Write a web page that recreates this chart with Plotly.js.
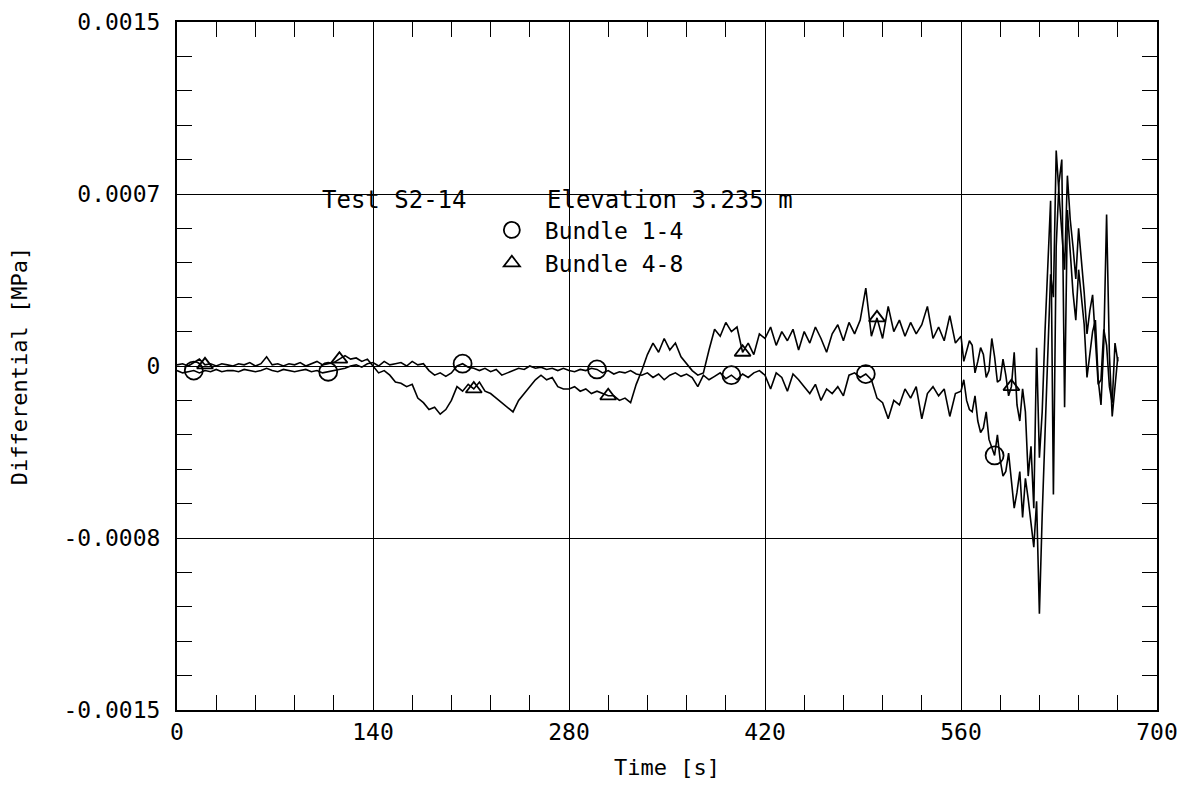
<!DOCTYPE html>
<html>
<head>
<meta charset="utf-8">
<script src="https://cdn.plot.ly/plotly-3.0.1.min.js"></script>
<style>html,body{margin:0;padding:0;background:#fff;}#chart{width:1180px;height:785px;}</style>
</head>
<body>
<div id="chart"></div>
<script>
// Time [s]
const time = [
0,4,8,12,16,20,24,28,32,36,
40,44,48,52,56,60,64,68,72,76,
80,84,88,92,96,100,104,108,112,116,
120,124,128,132,136,140,144,148,152,156,
160,164,168,172,176,180,184,188,192,196,
200,204,208,212,216,220,224,228,232,236,
240,244,248,252,256,260,264,268,272,276,
280,284,288,292,296,300,304,308,312,316,
320,324,328,332,336,340,344,348,352,356,
360,364,368,372,376,380,384,388,392,396,
400,404,408,412,416,420,424,428,432,436,
440,444,448,452,456,460,464,468,472,476,
480,484,488,492,496,500,504,508,512,516,
520,524,528,532,536,540,544,548,552,556,
560,562,564,566,568,570,572,574,576,578,
580,582,584,586,588,590,592,594,596,598,
600,602,604,606,608,610,612,614,616,618,
620,622,624,626,628,630,632,634,636,638,
640,642,644,646,648,650,652,654,656,658,
660,662,664,666,668,670,672
];
// Differential pressure, units of 1e-4 MPa
const bundle14 = [
-0.2,-0.3,-0.25,-0.2,-0.3,-0.2,-0.25,-0.15,-0.25,-0.2,
-0.2,-0.25,-0.15,-0.2,-0.25,-0.2,-0.1,-0.2,-0.25,-0.15,
-0.2,-0.25,-0.2,-0.15,-0.25,-0.2,-0.3,-0.25,-0.2,-0.15,
-0.1,0.0,0.05,-0.05,0.1,0.15,0.0,0.2,0.05,0.1,
0.15,0.0,0.2,0.05,0.1,-0.2,-0.4,-0.3,-0.45,-0.3,
0.0,0.1,-0.05,-0.1,-0.2,-0.1,-0.25,-0.15,-0.4,-0.3,
-0.2,-0.1,-0.15,0.0,-0.1,-0.05,-0.15,-0.1,-0.2,-0.1,
-0.2,-0.25,-0.15,-0.2,-0.1,-0.15,-0.3,-0.2,-0.35,-0.25,
-0.3,-0.2,-0.35,-0.4,-0.3,-0.5,-0.35,-0.6,-0.4,-0.3,
-0.45,-0.35,-0.5,-0.9,-0.4,-0.6,-0.45,-0.3,-0.55,-0.4,
-0.6,-0.35,-0.5,-0.3,-0.2,-0.4,-1.0,-0.3,-0.5,-1.1,
-0.35,-0.6,-0.9,-1.2,-0.8,-1.5,-1.0,-1.2,-0.9,-1.3,
-0.4,-0.3,-0.5,-0.35,-0.6,-1.4,-1.6,-2.3,-1.5,-1.7,
-1.0,-1.4,-0.9,-2.3,-1.2,-0.9,-1.3,-1.0,-2.2,-1.2,
-1.1,-0.6,-1.5,-1.9,-2.0,-1.3,-2.4,-2.9,-2.7,-2.0,
-3.2,-3.6,-3.9,-3.0,-4.1,-4.8,-4.6,-3.8,-5.0,-6.2,
-5.5,-4.6,-6.6,-4.9,-5.8,-7.0,-7.9,-5.9,-10.8,-6.5,
-3.0,1.0,4.0,3.0,9.4,7.5,6.0,4.2,8.3,6.4,
5.2,3.8,6.0,4.6,3.2,1.4,2.4,3.1,1.0,-0.8,
-0.6,1.6,0.9,-0.9,-1.6,1.0,0.2
];
const bundle48 = [
0.05,0.1,0.0,0.15,0.3,0.05,0.1,0.0,0.1,0.05,
0.0,0.1,0.05,0.15,0.0,0.1,0.4,0.05,0.1,0.0,
0.1,0.05,0.15,0.0,0.1,0.2,0.05,0.1,0.15,0.3,
0.45,0.3,0.35,0.2,0.3,0.0,-0.3,-0.2,-0.4,-0.7,
-0.75,-0.9,-0.8,-1.4,-1.6,-1.9,-1.8,-2.1,-1.9,-1.5,
-0.9,-1.1,-0.8,-1.0,-0.7,-1.1,-1.2,-1.4,-1.6,-1.8,
-2.0,-1.5,-1.2,-0.9,-0.6,-0.4,-0.6,-0.5,-0.9,-1.0,
-1.0,-0.9,-1.1,-1.0,-1.2,-1.1,-1.2,-1.3,-1.3,-1.5,
-1.4,-1.6,-0.8,-0.2,0.5,1.0,0.6,1.2,0.7,1.0,
0.4,0.1,-0.2,-0.4,-0.3,0.7,1.6,1.3,1.9,1.5,
1.7,0.6,1.0,0.5,1.4,1.2,1.7,0.9,1.5,1.1,
1.6,0.7,1.5,1.0,1.7,1.2,0.6,1.4,1.8,1.1,
1.9,1.4,2.0,3.4,1.3,2.1,1.2,2.6,1.5,2.0,
1.3,1.9,1.4,1.8,2.6,1.2,1.7,1.1,2.2,1.0,
1.3,0.2,0.6,1.1,0.9,-0.3,0.2,0.8,0.5,-0.5,
-0.2,1.2,0.4,-0.7,-0.6,0.3,-0.4,-1.3,-0.9,0.6,
-1.7,-2.4,-1.0,-2.0,-4.8,-3.5,-6.2,0.8,-4.0,-2.0,
1.5,4.5,7.2,-5.6,5.2,8.0,9.0,-1.8,6.8,5.0,
3.2,2.0,4.2,3.0,1.8,-0.5,0.6,1.5,2.0,-0.6,
-1.7,1.0,6.6,0.5,-2.2,-1.0,0.4
];
// Times at which the plotter drew the series symbols
const circleTimes = [12,108,204,300,396,492,584];
const triangleTimes = [20,116,212,308,404,500,596];

const yTickVals = [0.0015,0.00075,0,-0.00075,-0.0015];
const yTickText = ["0.0015","0.0007","0","-0.0008","-0.0015"];
const xTickVals = [0,140,280,420,560,700];
const xTickText = ["0","140","280","420","560","700"];

const UNIT = 1e-4;
const toMPa = arr => arr.map(v => v * UNIT);
const pick = (times, series) => times.map(t => series[time.indexOf(t)] * UNIT);

const FONT = "DejaVu Sans Mono, monospace";

const traces = [
  {x: time, y: toMPa(bundle48), mode: 'lines', line: {color: '#000', width: 1.6}, showlegend: false, hoverinfo: 'skip'},
  {x: time, y: toMPa(bundle14), mode: 'lines', line: {color: '#000', width: 1.6}, showlegend: false, hoverinfo: 'skip'},
  {x: circleTimes, y: pick(circleTimes, bundle14), mode: 'markers', name: 'Bundle 1-4',
   marker: {symbol: 'circle-open', size: 18, color: '#000', line: {width: 1.8, color: '#000'}}},
  {x: triangleTimes, y: pick(triangleTimes, bundle48), mode: 'markers', name: 'Bundle 4-8',
   marker: {symbol: 'triangle-up-open', size: 14, color: '#000', line: {width: 1.8, color: '#000'}}}
];

const layout = {
  width: 1180, height: 785,
  margin: {l: 177, r: 23, t: 22, b: 75},
  paper_bgcolor: '#fff', plot_bgcolor: '#fff',
  font: {family: FONT, size: 22, color: '#000'},
  showlegend: true,
  legend: {x: 0.308, y: 0.729, xanchor: 'left', yanchor: 'top', bgcolor: 'rgba(0,0,0,0)',
           itemwidth: 56, font: {family: FONT, size: 23, color: '#000'}, tracegroupgap: 0},
  xaxis: {
    range: [0, 700], tickmode: 'array', tickvals: xTickVals, ticktext: xTickText,
    ticks: 'inside', ticklen: 15, tickwidth: 1, tickcolor: '#000',
    showgrid: true, gridcolor: '#000', gridwidth: 1, zeroline: false,
    showline: true, linecolor: '#000', linewidth: 2, mirror: 'allticks',
    tickfont: {family: FONT, size: 23, color: '#000'},
    minor: {tickmode: 'linear', tick0: 0, dtick: 28, ticks: 'inside', ticklen: 15, tickwidth: 1, tickcolor: '#000', showgrid: false},
    title: {text: 'Time [s]', font: {family: FONT, size: 22, color: '#000'}, standoff: 16}
  },
  yaxis: {
    range: [-0.0015, 0.0015], tickmode: 'array', tickvals: yTickVals, ticktext: yTickText,
    ticks: 'inside', ticklen: 15, tickwidth: 1, tickcolor: '#000', ticklabelstandoff: 10,
    showgrid: true, gridcolor: '#000', gridwidth: 1, zeroline: false,
    showline: true, linecolor: '#000', linewidth: 2, mirror: 'allticks',
    tickfont: {family: FONT, size: 23, color: '#000'},
    minor: {tickmode: 'linear', tick0: 0, dtick: 0.00015, ticks: 'inside', ticklen: 15, tickwidth: 1, tickcolor: '#000', showgrid: false},
    title: {text: 'Differential [MPa]', font: {family: FONT, size: 22, color: '#000'}, standoff: 30}
  },
  annotations: [
    {xref: 'paper', yref: 'paper', x: 0.146, y: 0.741, xanchor: 'left', yanchor: 'middle', showarrow: false,
     text: 'Test S2-14', font: {family: FONT, size: 24, color: '#000'}},
    {xref: 'paper', yref: 'paper', x: 0.3755, y: 0.741, xanchor: 'left', yanchor: 'middle', showarrow: false,
     text: 'Elevation 3.235 m', font: {family: FONT, size: 24, color: '#000'}}
  ]
};

Plotly.newPlot('chart', traces, layout, {displayModeBar: false, staticPlot: true});
</script>
</body>
</html>
